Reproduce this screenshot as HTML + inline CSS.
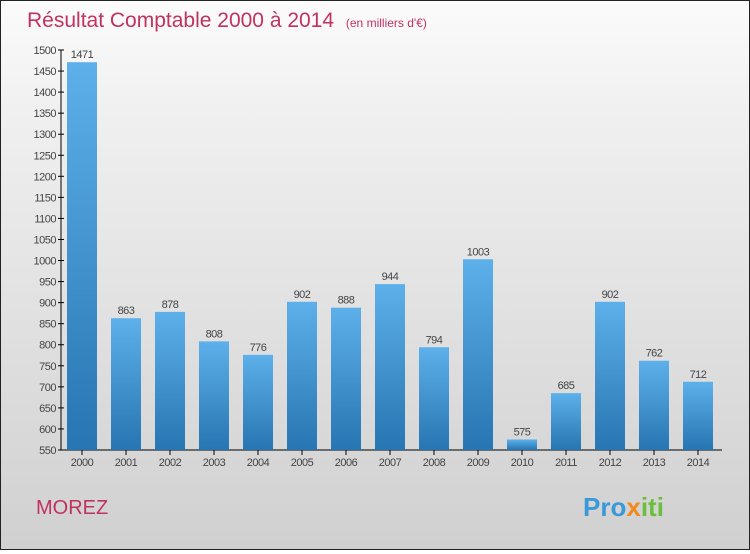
<!DOCTYPE html>
<html><head><meta charset="utf-8"><style>
body{margin:0;width:750px;height:550px;overflow:hidden;font-family:"Liberation Sans",sans-serif}
#wrap{position:relative;width:748px;height:548px;border:1px solid #222;background:linear-gradient(#fbfbfb,#f0f0f0 20%,#d0d0d0)}
</style></head><body>
<div id="wrap">
<svg width="748" height="548" viewBox="1 1 748 548">
<defs><linearGradient id="bg" x1="0" y1="0" x2="0" y2="1"><stop offset="0" stop-color="#5db0ea"/><stop offset="1" stop-color="#2775b2"/></linearGradient></defs>
<text x="27" y="27" font-size="21" fill="#c0325f">Résultat Comptable 2000 à 2014 <tspan font-size="12" dx="6">(en milliers d'€)</tspan></text>
<g id="axes"></g><g id="bars"></g>
<text x="36" y="514" font-size="20" fill="#c0325f">MOREZ</text>
<text x="583" y="516" font-size="26" font-weight="bold" fill="#3a9ad9">Pro<tspan fill="#f08a1c">x</tspan><tspan fill="#6cbf3c">iti</tspan></text>
</svg></div>
<script>
const years=["2000","2001","2002","2003","2004","2005","2006","2007","2008","2009","2010","2011","2012","2013","2014"];
const values=[1471,863,878,808,776,902,888,944,794,1003,575,685,902,762,712];
const ticks=[550,600,650,700,750,800,850,900,950,1000,1050,1100,1150,1200,1250,1300,1350,1400,1450,1500];
const NS="http://www.w3.org/2000/svg";
const y0=450,y1=50,vmin=550,vmax=1500;
const y=v=>y0-(v-vmin)/(vmax-vmin)*(y0-y1);
const x=i=>82+i*44;
const ax=document.getElementById('axes'),bg=document.getElementById('bars');
function mk(t,a,p){const e=document.createElementNS(NS,t);for(const k in a)e.setAttribute(k,a[k]);p.appendChild(e);return e;}
let l=mk('line',{x1:61,y1:50,x2:61,y2:450,stroke:'#000'},ax);


l=mk('line',{x1:61,y1:450,x2:722,y2:450,stroke:'#000'},ax);


ticks.forEach(v=>{
 mk('line',{x1:58,x2:64,y1:y(v),y2:y(v),stroke:'#000'},ax);
 const t=mk('text',{x:56,y:y(v)+4,'text-anchor':'end','font-size':11,fill:'#444','letter-spacing':'-0.5'},ax);
 t.textContent=v;
 
 
});
years.forEach((yr,i)=>{
 const r=mk('rect',{x:x(i)-15,y:y(values[i]),width:30,height:y0-y(values[i]),fill:'url(#bg)'},bg);
 
 
 const v=mk('text',{x:x(i),y:y(values[i])-4,'text-anchor':'middle','font-size':11,fill:'#444','letter-spacing':'-0.5'},bg);
 v.textContent=values[i];
 
 
 mk('line',{x1:x(i),x2:x(i),y1:450,y2:455,stroke:'#000'},ax);
 const t=mk('text',{x:x(i),y:466,'text-anchor':'middle','font-size':11,fill:'#444','letter-spacing':'-0.5'},ax);
 t.textContent=yr;
 
 
});
</script>
</body></html>
